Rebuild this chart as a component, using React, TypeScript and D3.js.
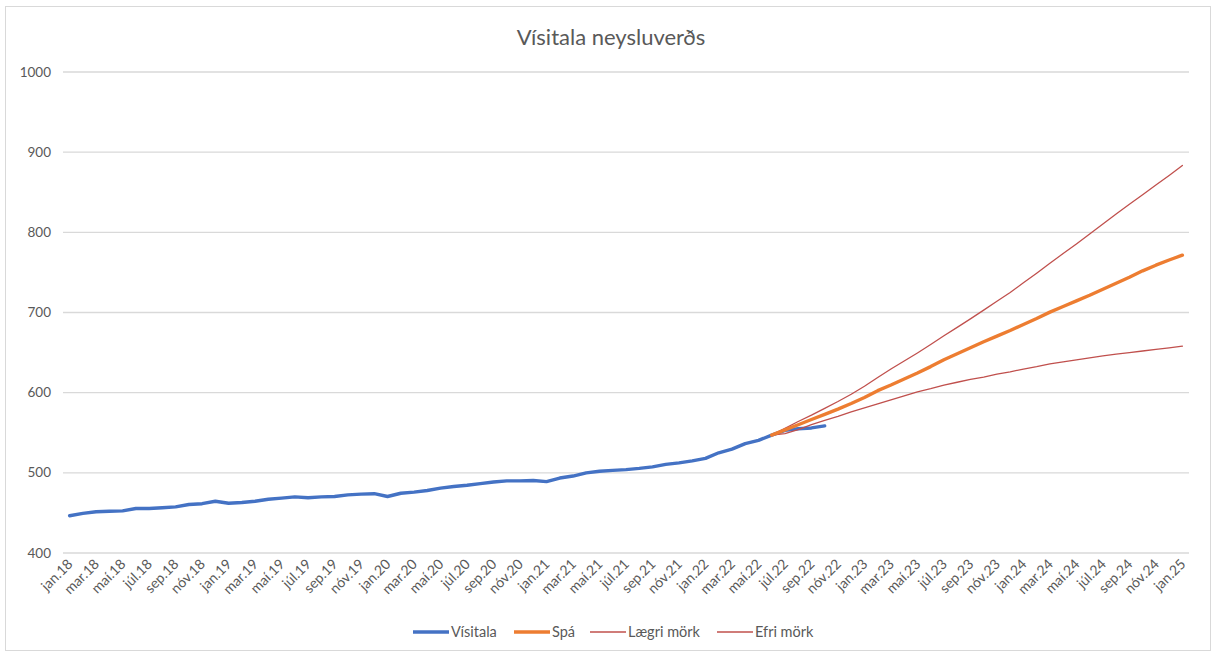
import { useMemo } from 'react';
import * as d3 from 'd3';

const width = 1214;
const height = 655;

// Mánuðir og ár
const monthNames = ['jan', 'feb', 'mar', 'apr', 'maí', 'jún', 'júl', 'ágú', 'sep', 'okt', 'nóv', 'des'];
const years = ['18', '19', '20', '21', '22', '23', '24'];
const categories: string[] = [];
years.forEach((y) => monthNames.forEach((m) => categories.push(`${m}.${y}`)));
categories.push('jan.25');

// Vísitala neysluverðs, jan.18 - okt.22
const visitala = [
  446.5, 449.5, 451.5, 452, 452.5, 455.5, 455.5, 456.5, 457.5, 460.5, 461.5, 464.5,
  462, 463, 464.5, 467, 468.5, 470, 469, 470, 470.5, 472.5, 473.5, 474,
  470.5, 474.5, 476, 478, 481, 483, 484.5, 486.5, 488.5, 490, 490, 490.5,
  489, 493.5, 496, 500, 502, 503, 504, 505.5, 507.5, 510.5, 512.5, 515,
  518, 525, 529.5, 536.5, 540.5, 547, 553, 555, 556, 558.5,
];

// Spá og mörk, jún.22 - jan.25
const forecastStart = 'jún.22';
const spa = [
  547, 553.5, 560, 566.5, 573, 579.5, 586.5, 594, 602.5, 609.5, 617, 624.5,
  632.5, 641, 648.5, 656, 663.5, 670.5, 677.5, 685, 692.5, 700.5, 707.5, 714.5,
  721.5, 729, 736.5, 744, 752, 759, 765.5, 771.5,
];
const laegriMork = [
  547, 549, 554, 560, 565.5, 570.5, 576, 581, 586, 591, 596, 601,
  605, 609.5, 613, 616.5, 619.5, 623, 626, 629.5, 632.5, 636, 638.5, 641,
  643.5, 646, 648, 650, 652, 654, 656, 658,
];
const efriMork = [
  547, 555.5, 564, 572, 580.5, 589, 598, 608, 619, 629.5, 639.5, 649.5,
  660, 671, 681.5, 692, 703, 714, 725, 737, 749, 761.5, 773.5, 785.5,
  798, 810.5, 823, 835, 847, 859, 871, 883.5,
];

const yTicks = [400, 500, 600, 700, 800, 900, 1000];

const textColor = '#595959';
const font = 'Lato, "Open Sans", sans-serif';

type Series = { name: string; values: number[]; offset: number; color: string; width: number };

export default function App() {
  const plot = { left: 63, right: 1189, top: 72, bottom: 553 };

  const xScale = useMemo(
    () => d3.scalePoint<string>().domain(categories).range([plot.left, plot.right]).padding(0.5),
    []
  );
  const yScale = useMemo(
    () => d3.scaleLinear().domain([400, 1000]).range([plot.bottom, plot.top]),
    []
  );

  const fOffset = categories.indexOf(forecastStart);
  const series: Series[] = [
    { name: 'Vísitala', values: visitala, offset: 0, color: '#4472C4', width: 3.4 },
    { name: 'Spá', values: spa, offset: fOffset, color: '#ED7D31', width: 3.4 },
    { name: 'Lægri mörk', values: laegriMork, offset: fOffset, color: '#C0504D', width: 1.3 },
    { name: 'Efri mörk', values: efriMork, offset: fOffset, color: '#C0504D', width: 1.3 },
  ];

  const line = d3
    .line<[string, number]>()
    .x((d) => xScale(d[0]) || 0)
    .y((d) => yScale(d[1]));

  const drawOrder = [series[0], series[2], series[3], series[1]];

  const legendX = [413, 514, 590, 717];

  return (
    <div style={{ position: 'absolute', left: 0, top: 0 }}>
      <svg width={width} height={height} style={{ display: 'block', background: '#fff' }}>
        <rect x={5.5} y={6.5} width={1205} height={644} fill="#fff" stroke="#d9d9d9" />
        <text x={611} y={45} textAnchor="middle" fontFamily={font} fontSize={22} fill={textColor}>
          Vísitala neysluverðs
        </text>
        {yTicks.map((t) => (
          <g key={t}>
            <line x1={plot.left} x2={plot.right} y1={yScale(t)} y2={yScale(t)} stroke="#d9d9d9" strokeWidth={1.3} />
            <text x={51} y={yScale(t) + 4.5} textAnchor="end" fontFamily={font} fontSize={13.5} fill={textColor}>
              {t}
            </text>
          </g>
        ))}
        {categories.map((c, i) =>
          i % 2 === 0 ? (
            <text
              key={c}
              transform={`translate(${(xScale(c) || 0) + 4},${565}) rotate(-45)`}
              textAnchor="end"
              fontFamily={font}
              fontSize={14}
              fill={textColor}
            >
              {c}
            </text>
          ) : null
        )}
        {drawOrder.map((s) => (
          <path
            key={s.name}
            d={line(s.values.map((v, i) => [categories[i + s.offset], v])) || ''}
            fill="none"
            stroke={s.color}
            strokeWidth={s.width}
            strokeLinejoin="round"
            strokeLinecap="round"
          />
        ))}
        {series.map((s, i) => (
          <g key={s.name} transform={`translate(${legendX[i]},632)`}>
            <line x1={0} x2={36} y1={0} y2={0} stroke={s.color} strokeWidth={s.width} />
            <text x={38} y={5} fontFamily={font} fontSize={14.5} fill={textColor}>
              {s.name}
            </text>
          </g>
        ))}
      </svg>
    </div>
  );
}
